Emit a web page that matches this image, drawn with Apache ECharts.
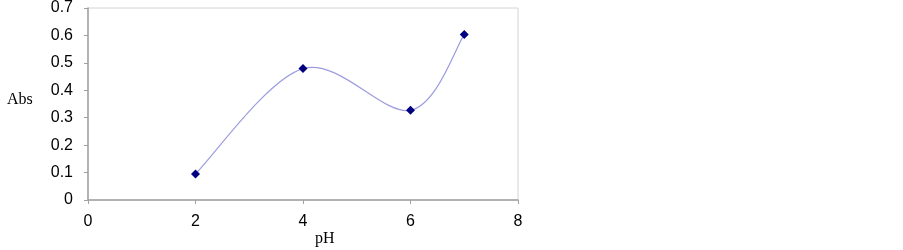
<!DOCTYPE html>
<html><head><meta charset="utf-8">
<script src="https://cdn.jsdelivr.net/npm/echarts@6/dist/echarts.min.js"></script>
<style>html,body{margin:0;padding:0;background:#fff}#c{width:903px;height:250px}</style>
</head><body><div id="c"></div>
<script>
var phValues = [2, 4, 6, 7];
var absValues = [0.095, 0.479, 0.327, 0.603];
var xTicks = [0, 2, 4, 6, 8];
var yTicks = [0, 0.1, 0.2, 0.3, 0.4, 0.5, 0.6, 0.7];

var pts = phValues.map(function(x,i){return [x, absValues[i]];});
var chart = echarts.init(document.getElementById('c'));
var lab = {color:'#000', fontFamily:'Liberation Sans, Arial, sans-serif', fontSize:16};

// Excel-style smoothed line (Catmull-Rom Bezier, tension 1/6) through the data, positioned via api.coord
function renderCurve(params, api){
  if (params.dataIndex !== 0) return null;
  var p = pts.map(function(d){ return api.coord(d); });
  var n = p.length, children = [];
  for (var i = 0; i < n - 1; i++){
    var p0 = p[Math.max(i-1,0)], p1 = p[i], p2 = p[i+1], p3 = p[Math.min(i+2,n-1)];
    children.push({type:'bezierCurve', silent:true,
      shape:{x1:p1[0], y1:p1[1], x2:p2[0], y2:p2[1],
        cpx1:p1[0]+(p2[0]-p0[0])/6, cpy1:p1[1]+(p2[1]-p0[1])/6,
        cpx2:p2[0]-(p3[0]-p1[0])/6, cpy2:p2[1]-(p3[1]-p1[1])/6},
      style:{stroke:'#9c9ce0', lineWidth:1.2, fill:null}});
  }
  return {type:'group', children:children};
}

chart.setOption({
  animation:false,
  grid:{left:88, right:385, top:8, bottom:50, show:true, borderColor:'#d4d4d4', borderWidth:1, backgroundColor:'#fff'},
  xAxis:{type:'value', min:xTicks[0], max:xTicks[xTicks.length-1], interval:2,
    axisLine:{show:true, onZero:false, lineStyle:{color:'#a0a0a0', width:1.5}},
    axisTick:{show:true, inside:false, length:4, lineStyle:{color:'#a0a0a0'}},
    splitLine:{show:false},
    axisLabel:Object.assign({margin:14}, lab)},
  yAxis:{type:'value', min:yTicks[0], max:yTicks[yTicks.length-1], interval:0.1,
    axisLine:{show:true, onZero:false, lineStyle:{color:'#a0a0a0', width:1.5}},
    axisTick:{show:true, inside:false, length:4, lineStyle:{color:'#a0a0a0'}},
    splitLine:{show:false},
    axisLabel:Object.assign({margin:15, formatter:function(v){return String(+v.toFixed(1));}}, lab)},
  graphic:[
    {type:'text', left:7, top:92, style:{text:'Abs', fill:'#000', font:'16px "Liberation Serif", "Times New Roman", serif'}},
    {type:'text', left:315, top:231, style:{text:'pH', fill:'#000', font:'16px "Liberation Serif", "Times New Roman", serif'}}
  ],
  series:[
    {type:'custom', data:pts, renderItem:renderCurve, silent:true, z:2},
    {type:'scatter', data:pts, symbol:'diamond', symbolSize:9, itemStyle:{color:'#000080', opacity:1}, z:3}
  ]
});
</script></body></html>
